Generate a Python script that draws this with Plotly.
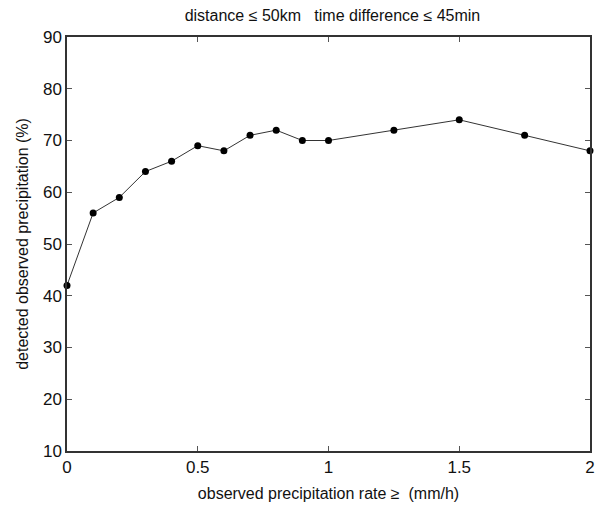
import plotly.graph_objects as go

rate = [0, 0.1, 0.2, 0.3, 0.4, 0.5, 0.6, 0.7, 0.8, 0.9, 1.0, 1.25, 1.5, 1.75, 2.0]
detected = [42, 56, 59, 64, 66, 69, 68, 71, 72, 70, 70, 72, 74, 71, 68]
xticks = [0, 0.5, 1, 1.5, 2]
xticklabels = ["0", "0.5", "1", "1.5", "2"]
yticks = [10, 20, 30, 40, 50, 60, 70, 80, 90]

fig = go.Figure()
fig.add_trace(go.Scatter(
    x=rate, y=detected, mode="lines+markers",
    line=dict(color="#333333", width=1),
    marker=dict(color="black", size=7, symbol="circle"),
    cliponaxis=False, showlegend=False,
))

font = "Liberation Sans, Arial, sans-serif"
axis_common = dict(
    showgrid=False, zeroline=False, showline=True, linecolor="#333333",
    linewidth=1.5, mirror="ticks", ticks="inside", ticklen=5,
    tickcolor="#555555", tickfont=dict(family=font, size=17, color="#111111"),
)
fig.update_layout(
    width=599, height=508,
    margin=dict(l=67, r=4, t=37, b=57),
    paper_bgcolor="white", plot_bgcolor="white",
    title=dict(text="distance \u2264 50km   time difference \u2264 45min",
               x=0.555, xanchor="center", y=0.97, yanchor="middle",
               font=dict(family=font, size=16, color="#111111")),
    xaxis=dict(range=[0, 2], tickvals=xticks, ticktext=xticklabels,
               title=dict(text="observed precipitation rate \u2265  (mm/h)",
                          font=dict(family=font, size=16, color="#111111"), standoff=12),
               **axis_common),
    yaxis=dict(range=[10, 90], tickvals=yticks,
               title=dict(text="detected observed precipitation (%)",
                          font=dict(family=font, size=16, color="#111111"), standoff=10),
               **axis_common),
)
fig.write_html("out.html", config={"displayModeBar": False},
               post_script="document.body.style.margin='0';document.body.style.overflow='hidden';")
